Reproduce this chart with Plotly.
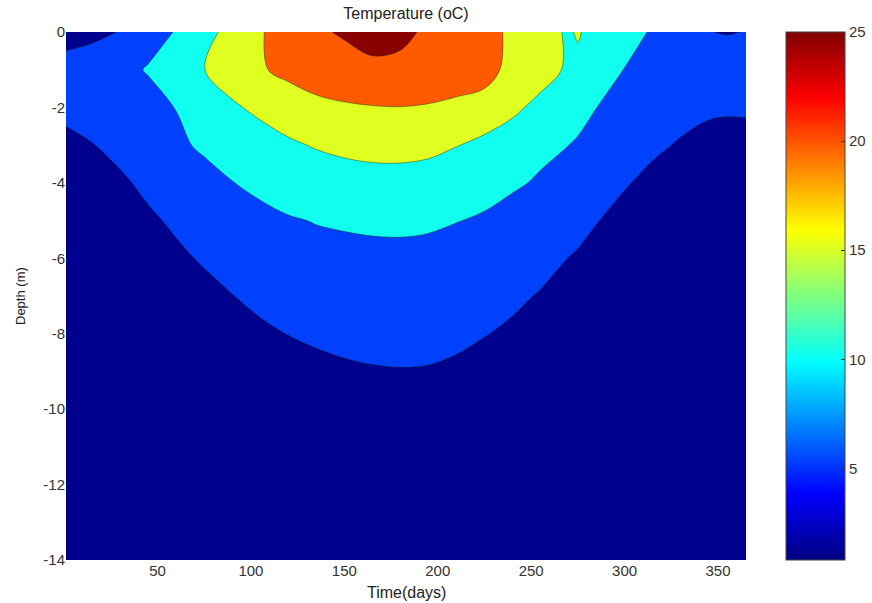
import plotly.graph_objects as go

# Time axis (days) and depth axis (m)
days = [1, 15, 30, 45, 60, 75, 90, 105, 120, 135, 150, 165, 180, 195, 210,
        225, 240, 255, 270, 275, 285, 300, 315, 330, 345, 355, 365]
depths = [0, -1, -2, -3, -4, -5, -6, -7, -8, -9, -10, -11, -12, -13, -14]

# Temperature (oC), one row per depth, one value per day
t_0 = [4.0, 4.4, 5.1, 7.8, 10.3, 13.4, 16.6, 19.7, 21.8, 24.2, 25.6, 25.85, 25.65, 24.55, 22.8, 21.3, 19.3, 16.9, 14.4, 15.5, 12.8, 11.2, 9.7, 7.56, 5.02, 4.95, 5.03]
t_1 = [6.0, 6.4, 8.3, 10.4, 12.7, 14.95, 17.2, 19.5, 21.3, 22.5, 22.74, 24.5, 24.3, 23.8, 22.3, 21.1, 19.1, 16.8, 14.4, 13.7, 12.15, 9.91, 8.4, 6.8, 6.0, 5.6, 5.8]
t_2 = [5.6, 6.1, 6.9, 7.9, 10.15, 12.2, 14.4, 16.0, 17.2, 18.77, 19.52, 19.76, 19.91, 19.58, 19.1, 18.9, 15.9, 13.8, 12.0, 11.4, 10.02, 8.5, 6.8, 5.32, 5.15, 5.1, 5.15]
t_3 = [4.4, 4.9, 6.1, 6.9, 8.9, 10.9, 12.0, 13.0, 14.4, 15.3, 15.9, 16.2, 16.3, 16.0, 15.15, 13.48, 12.7, 11.0, 10.02, 9.55, 8.6, 6.7, 5.17, 4.915, 4.7, 4.7, 4.6]
t_4 = [3.8, 4.2, 4.4, 5.83, 7.3, 8.0, 9.9, 10.9, 12.3, 12.7, 13.25, 13.6, 13.55, 13.22, 12.7, 12.1, 10.6, 9.5, 8.0, 7.3, 6.7, 5.08, 4.76, 4.6, 4.5, 4.4, 4.2]
t_5 = [3.3, 3.7, 3.9, 4.4, 5.6, 6.6, 8.0, 8.94, 9.6, 10.2, 10.53, 10.69, 10.63, 10.36, 10.08, 9.3, 8.38, 7.3, 6.3, 5.4, 5.04, 4.68, 4.5, 4.4, 4.3, 4.2, 4.0]
t_6 = [2.9, 3.2, 3.4, 3.8, 4.3, 5.4, 6.3, 7.3, 8.1, 8.4, 8.7, 9.0, 9.2, 9.3, 9.2, 8.0, 6.7, 5.15, 4.99, 4.86, 4.6, 4.4, 4.3, 4.2, 4.1, 4.0, 3.8]
t_7 = [2.6, 2.8, 3.0, 3.3, 3.7, 3.9, 4.93, 5.8, 6.6, 6.8, 7.1, 7.3, 7.5, 7.5, 7.2, 6.5, 5.09, 4.967, 4.6, 4.55, 4.4, 4.2, 4.1, 4.0, 3.9, 3.8, 3.6]
t_8 = [2.3, 2.5, 2.7, 2.9, 3.2, 3.4, 4.0, 4.4, 5.05, 5.25, 5.46, 5.68, 5.81, 5.49, 5.18, 5.02, 4.92, 4.7, 4.4, 4.35, 4.2, 4.0, 3.9, 3.8, 3.7, 3.6, 3.4]
t_9 = [2.1, 2.2, 2.4, 2.6, 2.9, 3.1, 3.5, 3.8, 4.2, 4.6, 4.75, 4.85, 4.9, 4.9, 4.85, 4.8, 4.6, 4.4, 4.2, 4.15, 4.0, 3.8, 3.7, 3.6, 3.5, 3.4, 3.2]
t_10 = [1.9, 2.0, 2.2, 2.3, 2.6, 2.8, 3.1, 3.4, 3.7, 4.0, 4.1, 4.2, 4.3, 4.3, 4.3, 4.2, 4.1, 4.0, 3.9, 3.85, 3.8, 3.6, 3.5, 3.4, 3.3, 3.2, 3.0]
t_11 = [1.7, 1.8, 2.0, 2.1, 2.3, 2.5, 2.8, 3.0, 3.3, 3.6, 3.7, 3.8, 3.9, 3.9, 3.9, 3.8, 3.7, 3.6, 3.5, 3.45, 3.4, 3.3, 3.2, 3.1, 3.0, 2.9, 2.7]
t_12 = [1.5, 1.6, 1.8, 1.9, 2.1, 2.3, 2.5, 2.7, 3.0, 3.2, 3.3, 3.4, 3.5, 3.5, 3.5, 3.4, 3.3, 3.2, 3.1, 3.05, 3.0, 2.9, 2.8, 2.7, 2.6, 2.5, 2.3]
t_13 = [1.3, 1.4, 1.6, 1.7, 1.9, 2.1, 2.3, 2.5, 2.7, 2.9, 3.0, 3.1, 3.2, 3.2, 3.2, 3.1, 3.0, 2.9, 2.8, 2.75, 2.7, 2.6, 2.5, 2.4, 2.3, 2.2, 2.0]
t_14 = [1.1, 1.2, 1.4, 1.5, 1.7, 1.9, 2.1, 2.3, 2.5, 2.7, 2.8, 2.9, 3.0, 3.0, 3.0, 2.9, 2.8, 2.7, 2.6, 2.55, 2.5, 2.4, 2.3, 2.2, 2.1, 2.0, 1.8]

temperature = [t_0, t_1, t_2, t_3, t_4, t_5, t_6, t_7, t_8, t_9, t_10,
               t_11, t_12, t_13, t_14]

x_ticks = [50, 100, 150, 200, 250, 300, 350]
y_ticks = [0, -2, -4, -6, -8, -10, -12, -14]
y_tick_text = ["0", "-2", "-4", "-6", "-8", "-10", "-12", "-14"]
cbar_ticks = [5, 10, 15, 20, 25]
cbar_min, cbar_max = 0.8, 25

FONT = "Liberation Sans, Arial, Helvetica, sans-serif"
TXT = "#333333"

# band fill colours (jet, one colour per band)
fill_scale = [
    [0.0, "rgb(0,0,143)"],
    [0.2, "rgb(0,64,255)"],
    [0.4, "rgb(16,255,239)"],
    [0.6, "rgb(223,255,32)"],
    [0.8, "rgb(255,90,0)"],
    [1.0, "rgb(136,0,0)"],
]
jet = [
    [0.0, "rgb(0,0,128)"],
    [0.125, "rgb(0,0,255)"],
    [0.375, "rgb(0,255,255)"],
    [0.625, "rgb(255,255,0)"],
    [0.875, "rgb(255,0,0)"],
    [1.0, "rgb(128,0,0)"],
]

fig = go.Figure()
fig.add_trace(go.Contour(
    x=days, y=depths, z=temperature,
    contours=dict(start=5, end=25, size=5, coloring="fill"),
    colorscale=fill_scale,
    showscale=False,
    line=dict(color="rgba(20,40,20,0.75)", width=0.6),
    hoverinfo="skip",
))

# continuous colour bar
fig.add_trace(go.Scatter(
    x=[days[0]], y=[depths[-1]], mode="markers",
    marker=dict(size=0.1, color=[cbar_min], colorscale=jet, cmin=cbar_min,
                cmax=cbar_max, showscale=True,
                colorbar=dict(
                    x=786 / 872, xref="container", xanchor="left",
                    xpad=0, ypad=0,
                    y=0.5, yanchor="middle", len=1, lenmode="fraction",
                    thickness=59, thicknessmode="pixels",
                    outlinewidth=1, outlinecolor="#444444",
                    tickmode="array", tickvals=cbar_ticks,
                    ticks="inside", ticklen=4, tickcolor="#333333",
                    tickfont=dict(family=FONT, size=15, color=TXT),
                )),
    hoverinfo="skip", showlegend=False,
))

fig.update_layout(
    width=872, height=603, autosize=False,
    margin=dict(l=66, r=126, t=32, b=43),
    paper_bgcolor="white", plot_bgcolor="white",
    font=dict(family=FONT, size=15, color=TXT),
    title=dict(text="Temperature (oC)", x=0.5, xref="paper", y=1 - 13 / 603,
               yref="container", yanchor="middle",
               font=dict(family=FONT, size=16, color="#222222")),
    xaxis=dict(range=[1, 365], tickvals=x_ticks, ticks="", showgrid=False,
               zeroline=False, showline=False,
               tickfont=dict(family=FONT, size=15, color=TXT)),
    yaxis=dict(range=[-14, 0], tickvals=y_ticks, ticktext=y_tick_text,
               ticks="", showgrid=False, zeroline=False, showline=False,
               tickfont=dict(family=FONT, size=15, color=TXT)),
    annotations=[
        dict(text="Time(days)", xref="paper", yref="paper", x=0.5,
             y=-(592 - 560) / 528, xanchor="center", yanchor="middle",
             showarrow=False, font=dict(family=FONT, size=16, color="#222222")),
        dict(text="Depth (m)", xref="paper", yref="paper",
             x=(20 - 66) / 680, y=1 - (296 - 32) / 528, xanchor="center",
             yanchor="middle", textangle=-90, showarrow=False,
             font=dict(family=FONT, size=13, color="#222222")),
    ],
)

fig.write_html("out.html")
